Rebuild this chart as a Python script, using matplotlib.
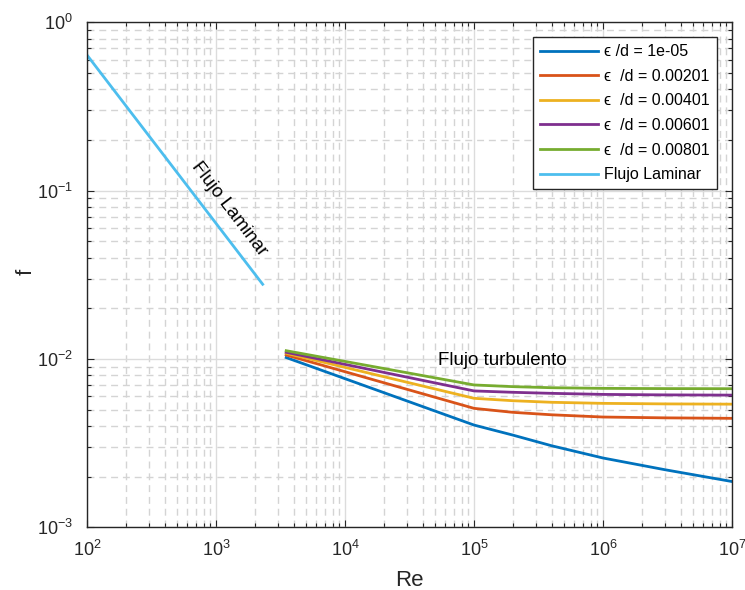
import matplotlib
matplotlib.use("Agg")
import matplotlib.pyplot as plt
from matplotlib.ticker import LogLocator, NullFormatter

plt.rcParams['font.family'] = ['Liberation Sans', 'DejaVu Sans']
plt.rcParams['axes.unicode_minus'] = False

# ---- data ----
re_turb = [3500, 1e5, 2e5, 4e5, 1e6, 3e6, 1e7]
f_1e05 = [0.0102, 0.00405, 0.00353, 0.00305, 0.00258, 0.00220, 0.00187]
f_00201 = [0.01056, 0.00509, 0.00482, 0.00466, 0.00452, 0.00447, 0.00444]
f_00401 = [0.01081, 0.00584, 0.00565, 0.00553, 0.00545, 0.00541, 0.00539]
f_00601 = [0.01096, 0.00646, 0.00634, 0.00625, 0.00616, 0.00612, 0.00610]
f_00801 = [0.01120, 0.00701, 0.00685, 0.00675, 0.00669, 0.00667, 0.00666]

re_lam = [100, 2300]
f_lam = [0.64, 0.0278]

labels = ['\u03f5 /d = 1e-05', '\u03f5  /d = 0.00201', '\u03f5  /d = 0.00401',
          '\u03f5  /d = 0.00601', '\u03f5  /d = 0.00801', 'Flujo Laminar']
colors = ['#0072BD', '#D95319', '#EDB120', '#7E2F8E', '#77AC30', '#4DBEEE']

fig = plt.figure(figsize=(7.45, 5.9), dpi=100)
ax = fig.add_axes([0.1168, 0.1063, 0.8658, 0.8557])

series = [f_1e05, f_00201, f_00401, f_00601, f_00801]
for f, lab, c in zip(series, labels[:5], colors[:5]):
    ax.plot(re_turb, f, color=c, lw=2.0, label=lab)
ax.plot(re_lam, f_lam, color=colors[5], lw=2.0, label=labels[5])

ax.set_xscale('log')
ax.set_yscale('log')
ax.set_xlim(1e2, 1e7)
ax.set_ylim(1e-3, 1e0)

ax.xaxis.set_major_locator(LogLocator(base=10, numticks=10))
ax.yaxis.set_major_locator(LogLocator(base=10, numticks=10))
ax.xaxis.set_minor_locator(LogLocator(base=10, subs=range(2, 10), numticks=20))
ax.yaxis.set_minor_locator(LogLocator(base=10, subs=range(2, 10), numticks=20))
ax.xaxis.set_minor_formatter(NullFormatter())
ax.yaxis.set_minor_formatter(NullFormatter())

ax.grid(True, which='major', color='#dcdcdc', lw=1.0, ls='-')
ax.grid(True, which='minor', color='#d4d4d4', lw=1.0, ls=(0, (5, 3.5)))
ax.set_axisbelow(True)

for s in ax.spines.values():
    s.set_color('#262626')
    s.set_linewidth(1.0)

ax.tick_params(which='both', direction='in', top=True, right=True, colors='#262626',
               labelcolor='#262626')
ax.tick_params(which='major', length=5, width=0.8, labelsize=13)
ax.tick_params(axis='x', which='major', pad=9)
ax.tick_params(axis='y', which='major', pad=10)
ax.tick_params(which='minor', length=3, width=0.8)

ax.set_xlabel('Re', fontsize=16, color='#262626')
ax.set_ylabel('f', fontsize=16, color='#262626')
ax.xaxis.set_label_coords(0.5, -0.085)
ax.yaxis.set_label_coords(-0.078, 0.505)

ax.text(1260, 0.0778, 'Flujo Laminar', rotation=-52.7, fontsize=13.5,
        ha='center', va='center', rotation_mode='anchor')
ax.text(1.67e5, 0.00977, 'Flujo turbulento', fontsize=13.5, ha='center', va='center')

leg = ax.legend(loc='upper right', bbox_to_anchor=(0.9767, 0.9709), borderaxespad=0,
                fontsize=11.5, handlelength=3.6, handletextpad=0.4, labelspacing=0.6,
                borderpad=0.45, fancybox=False, framealpha=1, edgecolor='#262626')
leg.get_frame().set_linewidth(1.0)

fig.savefig('out.png', dpi=100)
